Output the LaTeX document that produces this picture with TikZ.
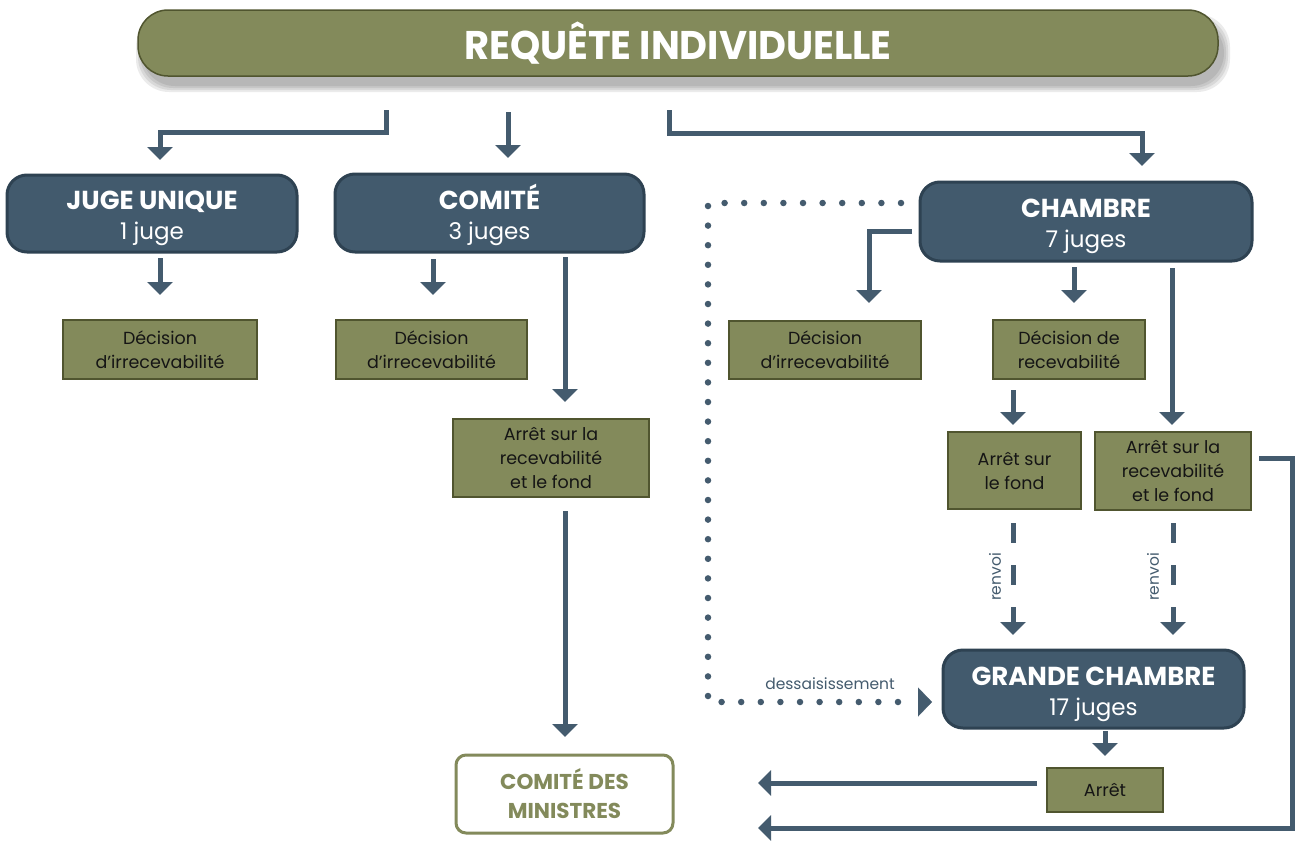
\documentclass[tikz,border=0pt]{standalone}
\usepackage{fontspec}
\setmainfont{Poppins}
\newfontfamily\ttlfont[FakeStretch=0.96]{Poppins}
\usetikzlibrary{arrows.meta}
\definecolor{olive}{HTML}{838A5B}
\definecolor{olivedk}{HTML}{50552F}
\definecolor{slate}{HTML}{425A6D}
\definecolor{slatedk}{HTML}{2E4252}
\definecolor{arrowc}{HTML}{445B6E}
\definecolor{txt}{HTML}{151515}
\newcommand{\topstrut}{\rule{0pt}{29pt}}
\tikzset{
  darkbox/.style={draw=slatedk, line width=3pt, fill=slate, rounded corners=20pt, text=white, align=center, inner sep=0pt, font=\fontsize{26}{30}\selectfont},
  olivebox/.style={draw=olivedk, line width=1.5pt, fill=olive, align=center, inner sep=0pt, text=txt, font=\fontsize{17.5}{24}\selectfont},
  conn/.style={draw=arrowc, line width=5pt, line join=miter},
  tipA/.style={-{Triangle[width=25pt,length=13pt]}},
  dashedconn/.style={conn, dash pattern=on 20pt off 22pt},
  dotconn/.style={draw=arrowc, line width=6.5pt, line cap=round, dash pattern=on 0pt off 19.6pt},
  lbl/.style={text=arrowc, inner sep=0pt, font=\fontsize{15.5}{18}\selectfont}
}
\begin{document}
\begin{tikzpicture}[x=1pt,y=-1pt]
\useasboundingbox (0,0) rectangle (1296,841);
\fill[white] (0,0) rectangle (1296,841);

% banner shadow
\foreach \i in {0,2,4,6}{
  \fill[black,opacity=0.08,rounded corners=33pt] (142-\i,20-\i) rectangle (1224+\i,86+\i);
}
\node[draw=olivedk, line width=1.5pt, fill=olive, rounded corners=30pt, minimum width=1080pt, minimum height=66pt, inner sep=0pt, text=white, font=\ttlfont\bfseries\fontsize{40}{40}\selectfont] (req) at (678,43) {REQUÊTE INDIVIDUELLE};

% level 1 boxes
\node[darkbox, minimum width=290pt, minimum height=77pt] (juge) at (152,213.5) {\topstrut\textbf{JUGE UNIQUE}\\{\fontsize{23}{30}\selectfont 1 juge}};
\node[darkbox, minimum width=309pt, minimum height=78pt] (comite) at (489.5,213) {\topstrut\textbf{COMITÉ}\\{\fontsize{23}{30}\selectfont 3 juges}};
\node[darkbox, minimum width=332pt, minimum height=79pt] (chambre) at (1086,221.5) {\topstrut\textbf{CHAMBRE}\\{\fontsize{23}{30}\selectfont 7 juges}};
\node[darkbox, minimum width=301pt, minimum height=78pt] (grande) at (1093.5,689) {\topstrut\textbf{GRANDE CHAMBRE}\\{\fontsize{23}{30}\selectfont 17 juges}};

% olive boxes
\node[olivebox, minimum width=194pt, minimum height=59pt] (dec1) at (160,349.5) {Décision\\d’irrecevabilité};
\node[olivebox, minimum width=191pt, minimum height=59pt] (dec2) at (431.5,349.5) {Décision\\d’irrecevabilité};
\node[olivebox, minimum width=192pt, minimum height=58pt] (dec3) at (825,350) {Décision\\d’irrecevabilité};
\node[olivebox, minimum width=152pt, minimum height=59pt] (decrec) at (1069,349.5) {Décision de\\recevabilité};
\node[olivebox, minimum width=196pt, minimum height=78pt] (arretC) at (551,458) {Arrêt sur la\\recevabilité\\et le fond};
\node[olivebox, minimum width=133pt, minimum height=77pt] (arretF) at (1014.5,470.5) {Arrêt sur\\le fond};
\node[olivebox, minimum width=156pt, minimum height=78pt] (arretRF) at (1173,471) {Arrêt sur la\\recevabilité\\et le fond};
\node[olivebox, minimum width=116pt, minimum height=44pt] (arret) at (1105,790) {Arrêt};

% comité des ministres
\node[draw=olive, line width=3pt, fill=white, rounded corners=10pt, minimum width=217pt, minimum height=78pt, align=center, inner sep=0pt, text=olive, font=\bfseries\fontsize{21.5}{29}\selectfont] (cm) at (564.5,794) {COMITÉ DES\\MINISTRES};

% coordinates
\coordinate (s1) at (386,110); \coordinate (e1) at (160,160);
\coordinate (s2) at (508,112); \coordinate (e2) at (508,158);
\coordinate (s3) at (669,110); \coordinate (e3) at (1142,166);
\coordinate (sj) at (160,258); \coordinate (ej) at (160,295);
\coordinate (sc1) at (433,259); \coordinate (ec1) at (433,295);
\coordinate (sc2) at (565,257); \coordinate (ec2) at (565,402);
\coordinate (sc3) at (565,511); \coordinate (ec3) at (565,737);
\coordinate (sh1) at (912,231); \coordinate (eh1) at (869,303);
\coordinate (sh2) at (1074,267); \coordinate (eh2) at (1074,303);
\coordinate (sh3) at (1172,268); \coordinate (eh3) at (1172,425);
\coordinate (sr) at (1013,390); \coordinate (er) at (1013,425);
\coordinate (sd1) at (1013,523); \coordinate (ed1) at (1013,635);
\coordinate (sd2) at (1173,523); \coordinate (ed2) at (1173,635);
\coordinate (sg) at (1105,731); \coordinate (eg) at (1105,756);
\coordinate (sa) at (1037,783); \coordinate (ea) at (758,783);
\coordinate (sb) at (1259,458); \coordinate (cb1) at (1292,458); \coordinate (cb2) at (1292,828); \coordinate (eb) at (758,828);
\coordinate (sdot) at (901,203); \coordinate (cdot1) at (708,203); \coordinate (cdot2) at (708,702); \coordinate (edot) at (906,702);
\coordinate (sdh) at (918,702); \coordinate (edh) at (932,702);

% connectors
\draw[conn,tipA] (s1) -- ++(0,22) -| (e1);
\draw[conn,tipA] (s2) -- (e2);
\draw[conn,tipA] (s3) -- ++(0,23) -| (e3);
\draw[conn,tipA] (sj) -- (ej);
\draw[conn,tipA] (sc1) -- (ec1);
\draw[conn,tipA] (sc2) -- (ec2);
\draw[conn,tipA] (sc3) -- (ec3);
\draw[conn,tipA] (sh1) -| (eh1);
\draw[conn,tipA] (sh2) -- (eh2);
\draw[conn,tipA] (sh3) -- (eh3);
\draw[conn,tipA] (sr) -- (er);
\draw[dashedconn,tipA] (sd1) -- (ed1);
\draw[dashedconn,tipA] (sd2) -- (ed2);
\draw[conn,tipA] (sg) -- (eg);
\draw[conn,tipA] (sa) -- (ea);
\draw[conn,tipA] (sb) -- (cb1) -- (cb2) -- (eb);
\draw[dotconn] (sdot) -- (cdot1) -- (cdot2) -- (edot);
\draw[draw=arrowc, line width=0.1pt, -{Triangle[width=29pt,length=14pt]}] (sdh) -- (edh);

% labels
\node[lbl] (dess) at (830,684) {dessaisissement};
\node[lbl, rotate=90] (renv1) at (995,577) {renvoi};
\node[lbl, rotate=90] (renv2) at (1153,577) {renvoi};
\end{tikzpicture}
\end{document}
